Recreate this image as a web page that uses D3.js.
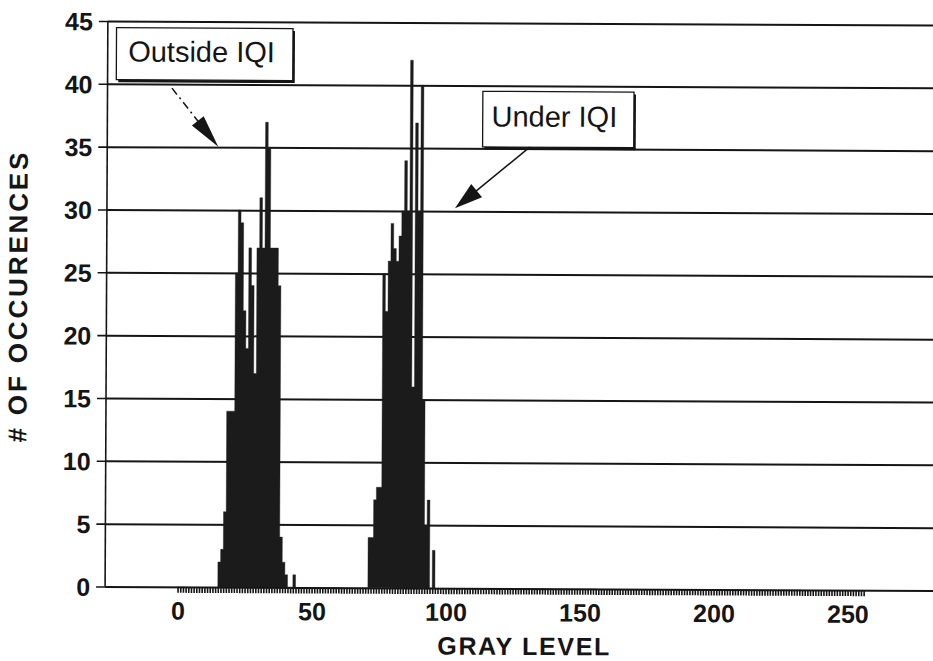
<!DOCTYPE html>
<html>
<head>
<meta charset="utf-8">
<script src="https://cdn.jsdelivr.net/npm/d3@7"></script>
<style>
  html, body { margin: 0; padding: 0; background: #ffffff; }
  svg { display: block; }
  text { font-family: "Liberation Sans", Arial, Helvetica, sans-serif; fill: #151515; }
</style>
</head>
<body>
<svg id="chart" width="933" height="661"></svg>
<script>
// Gray-level histogram of a radiograph: pixels outside the IQI and under the IQI.
// Each array holds the count for consecutive gray levels starting at its start level.
const outsideStart = 15;
const outsideCounts = [2, 3, 6, 14, 14, 14, 25, 30, 29, 22, 19, 27, 24, 17, 27, 31, 27, 37, 35, 27, 27, 27, 24, 4, 2, 1, 0, 0, 1];

const underStart = 71;
const underCounts = [4, 4, 7, 8, 8, 25, 22, 26, 29, 27, 26, 28, 30, 34, 30, 42, 16, 37, 30, 40, 15, 5, 7, 0, 3];

const yTickValues = [0, 5, 10, 15, 20, 25, 30, 35, 40, 45];
const xTickLabels = [0, 50, 100, 150, 200, 250];
const grayLevelCount = 256;

const xTitle = "GRAY LEVEL";
const yTitle = "# OF OCCURENCES";
const outsideLabel = "Outside IQI";
const underLabel = "Under IQI";

// ---- layout ----
const W = 933, H = 661;
const axisX = 106.5;          // position of the vertical axis
const ink = "#151515";

const x = d3.scaleLinear().domain([0, 250]).range([179, 849]);
const y = d3.scaleLinear().domain([0, 45]).range([588.5, 23]);

const svg = d3.select("#chart");
svg.append("rect").attr("width", W).attr("height", H).attr("fill", "#ffffff");

// the whole figure sits very slightly tilted on the page
const root = svg.append("g").attr("transform", "rotate(0.28 520 300)");

// ---- horizontal grid lines ----
const grid = root.append("g")
  .attr("transform", `translate(${axisX},0)`)
  .call(d3.axisLeft(y).tickValues(yTickValues).tickSize(-(W + 20 - axisX)).tickFormat(""));
grid.select(".domain").remove();
grid.selectAll(".tick line").attr("stroke", ink).attr("stroke-width", 2);

// ---- histogram: each cluster drawn as one solid stepped shape ----
function binsFrom(start, counts) {
  const pts = counts.map((c, i) => ({ g: start + i, c }));
  // closing point so the last bin gets its full width
  pts.push({ g: start + counts.length, c: 0 });
  return pts;
}

const histArea = d3.area()
  .x(d => x(d.g))
  .y0(y(0))
  .y1(d => y(d.c))
  .curve(d3.curveStepAfter);

root.append("g")
  .selectAll("path")
  .data([binsFrom(outsideStart, outsideCounts), binsFrom(underStart, underCounts)])
  .join("path")
  .attr("d", histArea)
  .attr("fill", "#1b1b1b")
  .attr("stroke", "#1b1b1b")
  .attr("stroke-width", 0.4)
  .attr("stroke-linejoin", "miter");

// ---- y axis: line, ticks, labels ----
const yAxis = root.append("g")
  .attr("transform", `translate(${axisX},0)`)
  .call(d3.axisLeft(y).tickValues(yTickValues).tickSize(9).tickPadding(6));
yAxis.select(".domain").remove();
yAxis.selectAll(".tick line").attr("stroke", ink).attr("stroke-width", 1.6);
yAxis.selectAll(".tick text")
  .attr("font-size", 25).attr("font-weight", "bold")
  .attr("fill", ink).attr("dy", "0.36em")
  .style("font-family", '"Liberation Sans", Arial, sans-serif');

root.append("line")
  .attr("x1", axisX).attr("x2", axisX)
  .attr("y1", y(45)).attr("y2", y(0))
  .attr("stroke", ink).attr("stroke-width", 1.6);

// ---- x axis: one small tick per gray level ----
const xMinor = root.append("g")
  .attr("transform", `translate(0,${y(0)})`)
  .call(d3.axisBottom(x).tickValues(d3.range(0, grayLevelCount + 1)).tickSize(6).tickFormat(""));
xMinor.select(".domain").remove();
xMinor.selectAll(".tick line").attr("stroke", ink).attr("stroke-width", 1.6);

const xLabels = root.append("g")
  .attr("transform", `translate(0,${y(0)})`)
  .call(d3.axisBottom(x).tickValues(xTickLabels).tickSize(0).tickPadding(15));
xLabels.select(".domain").remove();
xLabels.selectAll(".tick text")
  .attr("font-size", 25).attr("font-weight", "bold").attr("fill", ink)
  .style("font-family", '"Liberation Sans", Arial, sans-serif');

// ---- axis titles ----
root.append("text")
  .attr("x", 525).attr("y", 655)
  .attr("text-anchor", "middle")
  .attr("font-size", 25).attr("font-weight", "bold")
  .attr("textLength", 172).attr("lengthAdjust", "spacing")
  .text(xTitle);

root.append("text")
  .attr("transform", "translate(27,300) rotate(-90)")
  .attr("text-anchor", "middle")
  .attr("font-size", 26).attr("font-weight", "bold")
  .attr("textLength", 290).attr("lengthAdjust", "spacing")
  .text(yTitle);

// ---- callouts ----
function callout(box, label, from, tip, dashed) {
  const bx = x(box.g0), by = y(box.v1);
  const bw = x(box.g1) - x(box.g0), bh = y(box.v0) - y(box.v1);
  const grp = root.append("g");
  // drop shadow on the lower right edges
  grp.append("rect").attr("x", bx + 2).attr("y", by + 2.5)
    .attr("width", bw).attr("height", bh).attr("fill", ink);
  grp.append("rect").attr("x", bx).attr("y", by)
    .attr("width", bw).attr("height", bh)
    .attr("fill", "#ffffff").attr("stroke", ink).attr("stroke-width", 1.3);
  grp.append("text")
    .attr("x", x(label.g)).attr("y", y(label.v))
    .attr("font-size", 29)
    .text(label.text);

  // arrow shaft and head
  const fx = x(from.g), fy = y(from.v), tx = x(tip.g), ty = y(tip.v);
  const len = Math.hypot(tx - fx, ty - fy);
  const ux = (tx - fx) / len, uy = (ty - fy) / len;
  const headL = tip.head, headW = tip.half;
  const bxh = tx - ux * headL, byh = ty - uy * headL;
  grp.append("line")
    .attr("x1", fx).attr("y1", fy).attr("x2", bxh + ux * 2).attr("y2", byh + uy * 2)
    .attr("stroke", ink).attr("stroke-width", 1.5)
    .attr("stroke-dasharray", dashed ? "8,4,2,4" : null);
  const p = d3.path();
  p.moveTo(tx, ty);
  p.lineTo(bxh - uy * headW, byh + ux * headW);
  p.lineTo(bxh + uy * headW, byh - ux * headW);
  p.closePath();
  grp.append("path").attr("d", p.toString()).attr("fill", ink);
}

callout(
  { g0: -23.8, g1: 42.05, v0: 40.33, v1: 44.47 },
  { g: -19.4, v: 41.78, text: outsideLabel },
  { g: -3.0, v: 39.68 },
  { g: 14.37, v: 35.03, head: 33, half: 7.5 },
  true
);

callout(
  { g0: 113, g1: 169.4, v0: 35.12, v1: 39.55 },
  { g: 116.3, v: 36.76, text: underLabel },
  { g: 130.6, v: 35.12 },
  { g: 102.8, v: 30.23, head: 28, half: 8.5 },
  false
);
</script>
</body>
</html>
